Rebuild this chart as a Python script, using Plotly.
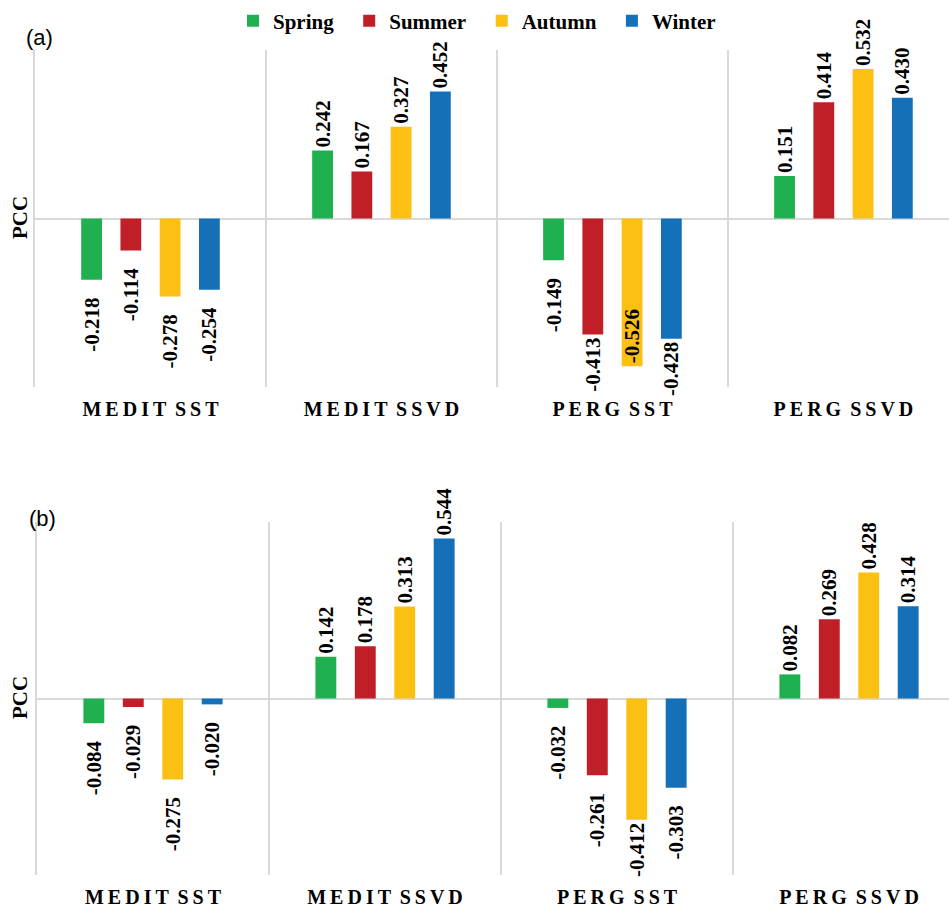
import plotly.graph_objects as go

# Groups (x categories) and seasons (bar series)
categories = ["MEDIT SST", "MEDIT SSVD", "PERG SST", "PERG SSVD"]
seasons = ["Spring", "Summer", "Autumn", "Winter"]
season_colors = ["#21B04F", "#C01F28", "#FCC012", "#1570B8"]

# Pearson correlation coefficients, panel (a)
pcc_a_spring = [-0.218, 0.242, -0.149, 0.151]
pcc_a_summer = [-0.114, 0.167, -0.413, 0.414]
pcc_a_autumn = [-0.278, 0.327, -0.526, 0.532]
pcc_a_winter = [-0.254, 0.452, -0.428, 0.430]

# Pearson correlation coefficients, panel (b)
pcc_b_spring = [-0.084, 0.142, -0.032, 0.082]
pcc_b_summer = [-0.029, 0.178, -0.261, 0.269]
pcc_b_autumn = [-0.275, 0.313, -0.412, 0.428]
pcc_b_winter = [-0.020, 0.544, -0.303, 0.314]

panel_a = [pcc_a_spring, pcc_a_summer, pcc_a_autumn, pcc_a_winter]
panel_b = [pcc_b_spring, pcc_b_summer, pcc_b_autumn, pcc_b_winter]

SERIF = "Liberation Serif"
GRID = "#D9D9D9"
W, H = 949, 912
LABEL_FONT = dict(family=SERIF, size=21, weight="bold", color="black")
NEG_PAD = "\u00a0\u00a0\u2009"   # breathing room between a negative bar and its label


def spaced(label):
    """Letter-spaced version of a category label."""
    return " \u2009".join("\u2009".join(w) for w in label.split(" "))


def label_for(v):
    txt = f"{v:.3f}"
    # shallow negative bars get a gap; deep ones keep the label tight so it stays in the panel
    return txt + NEG_PAD if -0.35 < v < 0 else txt


fig = go.Figure()

for p, (panel, xa, ya) in enumerate([(panel_a, "x", "y"), (panel_b, "x2", "y2")]):
    for name, color, vals in zip(seasons, season_colors, panel):
        # a label that would run past the panel floor is kept inside its bar
        positions = ["inside" if v < -0.5 else "outside" for v in vals]
        fig.add_trace(go.Bar(
            x=categories, y=vals, name=name + "\u00a0\u00a0", xaxis=xa, yaxis=ya,
            marker=dict(color=color, line=dict(width=0)),
            text=[label_for(v) for v in vals],
            textposition=positions, textangle=-90,
            insidetextanchor="end", constraintext="none", cliponaxis=False,
            textfont=LABEL_FONT, insidetextfont=LABEL_FONT, outsidetextfont=LABEL_FONT,
            showlegend=(p == 0), legendgroup=name,
        ))

xaxis_common = dict(
    type="category", tickson="boundaries", showgrid=True, gridcolor=GRID, gridwidth=2,
    ticks="", showline=False, zeroline=False,
    tickmode="array", tickvals=categories, ticktext=[spaced(c) for c in categories],
    tickfont=dict(family=SERIF, size=20, weight="bold", color="black"),
    ticklabelstandoff=8,
)
yaxis_common = dict(
    range=[-0.6, 0.6], showgrid=False, showticklabels=False, ticks="",
    zeroline=True, zerolinecolor=GRID, zerolinewidth=2,
    showline=True, linecolor=GRID, linewidth=2,
)

title_font = dict(family=SERIF, size=21, weight="bold", color="black")
panel_font = dict(family="Liberation Sans", size=22, color="black")

fig.update_layout(
    width=W, height=H,
    margin=dict(l=0, r=0, t=0, b=0),
    paper_bgcolor="white", plot_bgcolor="white",
    barmode="group", bargap=0.32, bargroupgap=0.47,
    xaxis=dict(xaxis_common, domain=[35 / W, 1], range=[-0.5, 3.457], anchor="y"),
    yaxis=dict(yaxis_common, domain=[1 - 387 / H, 1 - 50 / H], anchor="x"),
    xaxis2=dict(xaxis_common, domain=[37 / W, 1], range=[-0.5, 3.431], anchor="y2"),
    yaxis2=dict(yaxis_common, domain=[1 - 875 / H, 1 - 522 / H], anchor="x2"),
    legend=dict(
        orientation="h", x=233 / W, y=1 - 21 / H, xanchor="left", yanchor="middle",
        font=dict(family=SERIF, size=21, weight="bold", color="black"),
        bgcolor="rgba(0,0,0,0)", itemwidth=30,
    ),
    annotations=[
        dict(text="(a)", x=39 / W, y=1 - 37 / H, xref="paper", yref="paper",
             xanchor="center", yanchor="middle", showarrow=False, font=panel_font),
        dict(text="(b)", x=42 / W, y=1 - 518 / H, xref="paper", yref="paper",
             xanchor="center", yanchor="middle", showarrow=False, font=panel_font),
        dict(text="PCC", x=20 / W, y=1 - 218 / H, xref="paper", yref="paper", textangle=-90,
             xanchor="center", yanchor="middle", showarrow=False, font=title_font),
        dict(text="PCC", x=20 / W, y=1 - 698 / H, xref="paper", yref="paper", textangle=-90,
             xanchor="center", yanchor="middle", showarrow=False, font=title_font),
    ],
)

fig.write_html("out.html")
